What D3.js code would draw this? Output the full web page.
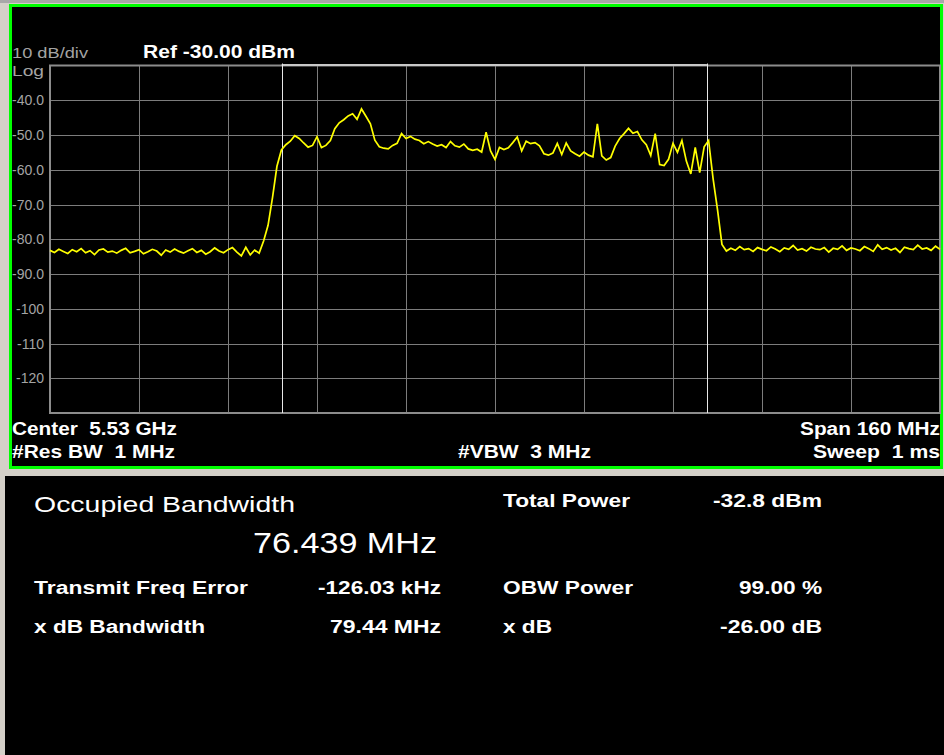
<!DOCTYPE html>
<html>
<head>
<meta charset="utf-8">
<script src="https://cdn.jsdelivr.net/npm/d3@7"></script>
<style>
  html, body { margin: 0; padding: 0; background: #d4d0c8; }
  svg { display: block; font-family: "Liberation Sans", Arial, sans-serif; }
</style>
</head>
<body>
<div id="chart"></div>
<script>
// sweep settings (MHz)
var centerFreq = 5530;
var spanFreq = 160;
var refLevel = -30;
var dbPerDiv = 10;

// measured trace, dBm, equally spaced over the span
var traceLevels = [
	-83.2,-83.8,-82.9,-83.5,-84.1,-83.0,-83.6,-82.7,-83.9,-83.3,-84.4,-83.1,-82.8,-83.7,-83.4,-84.0,
	-83.2,-82.6,-83.9,-83.5,-83.0,-84.2,-83.6,-82.9,-83.4,-84.6,-83.1,-83.7,-82.8,-83.5,-84.0,-83.3,
	-82.7,-83.8,-83.2,-84.3,-83.6,-82.5,-83.4,-83.9,-83.0,-82.4,-83.7,-84.8,-82.3,-84.5,-83.1,
	-84.0,-80.5,-76.0,-68.0,-59.0,-54.3,-52.8,-51.8,-50.2,-51.0,-52.3,-53.5,-53.0,-50.5,-53.6,-53.0,
	-51.6,-48.2,-46.5,-45.6,-44.5,-43.9,-45.5,-42.5,-44.6,-46.8,-51.5,-53.4,-53.8,-54.0,-53.0,-52.4,
	-49.6,-51.0,-50.4,-51.2,-51.6,-52.5,-51.9,-52.6,-53.2,-52.8,-53.6,-51.9,-53.1,-53.5,-52.6,-54.0,
	-54.4,-54.1,-54.9,-49.2,-54.6,-57.0,-53.6,-54.2,-53.7,-52.2,-50.6,-54.6,-51.8,-52.5,-52.2,-53.1,
	-55.4,-55.8,-55.2,-52.4,-55.6,-52.3,-54.6,-55.4,-56.1,-54.9,-55.8,-56.3,-46.8,-56.0,-57.2,-56.5,
	-53.2,-51.0,-49.6,-48.1,-49.5,-49.0,-51.4,-52.8,-55.9,-49.6,-58.5,-58.8,-57.0,-52.4,-55.0,-51.6,
	-57.5,-61.2,-53.6,-60.8,-53.4,-51.6,-62.5,-71.5,-81.5,-83.4,
	-82.6,-83.2,-82.1,-83.0,-82.7,-83.5,-82.4,-82.9,-83.3,-82.2,-82.8,-83.6,-82.5,-82.9,-81.8,-83.1,
	-82.7,-83.4,-82.3,-82.8,-83.0,-82.4,-83.7,-82.6,-82.9,-81.9,-83.2,-82.5,-82.8,-83.3,-82.1,-82.7,
	-83.5,-81.6,-82.9,-82.4,-83.1,-82.6,-83.8,-82.3,-82.7,-83.0,-81.7,-82.8,-82.5,-83.2,-82.0,-82.9
];

var yTickValues = [-40, -50, -60, -70, -80, -90, -100, -110, -120];
var yTickLabels = ["-40.0", "-50.0", "-60.0", "-70.0", "-80.0", "-90.0", "-100", "-110", "-120"];

// measurement results
var obwMHz = 76.439;
var freqErrorKHz = -126.03;
var resultLabels = ["Transmit Freq Error", "x dB Bandwidth"];
var resultValues = ["-126.03 kHz", "79.44 MHz"];
var resultLabels2 = ["Total Power", "OBW Power", "x dB"];
var resultValues2 = ["-32.8 dBm", "99.00 %", "-26.00 dB"];

var W = 944, H = 755;
var svg = d3.select("#chart").append("svg")
	.attr("width", W)
	.attr("height", H);

svg.append("rect").attr("width", W).attr("height", H).attr("fill", "#d4d0c8");
svg.append("rect").attr("x", 0).attr("y", 0).attr("width", W).attr("height", 3).attr("fill", "#a8a8a8");

// upper screen
svg.append("rect")
	.attr("x", 10.5).attr("y", 5.5)
	.attr("width", 931).attr("height", 462)
	.attr("fill", "#000")
	.attr("stroke", "#00ff00")
	.attr("stroke-width", 3);

// lower results panel
svg.append("rect").attr("x", 5).attr("y", 476).attr("width", W - 5).attr("height", H - 476).attr("fill", "#000");

var x = d3.scaleLinear()
	.domain([centerFreq - spanFreq / 2, centerFreq + spanFreq / 2])
	.range([50, 940]);
var y = d3.scaleLinear()
	.domain([refLevel - 10 * dbPerDiv, refLevel])
	.range([413, 65.5]);

var plot = svg.append("g");

// graticule
var xGrid = d3.range(1, 10).map(function(i) { return x.domain()[0] + i * spanFreq / 10; });
plot.selectAll("line.vgrid")
	.data(xGrid)
	.enter()
		.append("line")
		.attr("class", "vgrid")
		.attr("x1", function(d) { return Math.round(x(d)) + 0.5; })
		.attr("x2", function(d) { return Math.round(x(d)) + 0.5; })
		.attr("y1", y.range()[1]).attr("y2", y.range()[0])
		.style("stroke", "#7c7c7c").style("stroke-width", "1px");

plot.selectAll("line.hgrid")
	.data(yTickValues)
	.enter()
		.append("line")
		.attr("class", "hgrid")
		.attr("x1", x.range()[0]).attr("x2", x.range()[1])
		.attr("y1", function(d) { return Math.round(y(d)) + 0.5; })
		.attr("y2", function(d) { return Math.round(y(d)) + 0.5; })
		.style("stroke", "#7c7c7c").style("stroke-width", "1px");

plot.append("rect")
	.attr("x", x.range()[0]).attr("y", y.range()[1])
	.attr("width", x.range()[1] - x.range()[0])
	.attr("height", y.range()[0] - y.range()[1])
	.attr("fill", "none")
	.style("stroke", "#8c8c8c").style("stroke-width", "2px");

// y labels
plot.selectAll("text.ylab")
	.data(yTickValues)
	.enter()
		.append("text")
		.attr("class", "ylab")
		.attr("x", 44)
		.attr("y", function(d) { return y(d) + 5; })
		.attr("text-anchor", "end")
		.style("font-size", "14px")
		.style("fill", "#a4a4a4")
		.text(function(d, i) { return yTickLabels[i]; });

// OBW markers
var obwCenter = centerFreq + freqErrorKHz / 1000;
var obwEdges = [obwCenter - obwMHz / 2, obwCenter + obwMHz / 2];
plot.append("line")
	.attr("x1", x(obwEdges[0])).attr("x2", x(obwEdges[1]))
	.attr("y1", y.range()[1] - 0.5).attr("y2", y.range()[1] - 0.5)
	.style("stroke", "#c8c8c8").style("stroke-width", "2px");
plot.selectAll("line.obw")
	.data(obwEdges)
	.enter()
		.append("line")
		.attr("class", "obw")
		.attr("x1", function(d) { return Math.round(x(d)) + 0.5; })
		.attr("x2", function(d) { return Math.round(x(d)) + 0.5; })
		.attr("y1", y.range()[1] - 2).attr("y2", y.range()[0])
		.style("stroke", "#e8e8e8").style("stroke-width", "1px");

// trace
var step = spanFreq / (traceLevels.length - 1);
var line = d3.line()
	.x(function(d, i) { return x(x.domain()[0] + i * step); })
	.y(function(d) { return y(d); });
plot.append("path")
	.datum(traceLevels)
	.attr("d", line)
	.attr("fill", "none")
	.style("stroke", "#ffff00")
	.style("stroke-width", "1.7px")
	.style("stroke-linejoin", "miter");

// text helper: stretch text to the width it takes on screen
function label(txt, px, py, size, weight, color, width, anchor) {
	var t = svg.append("text")
		.attr("x", px).attr("y", py)
		.style("font-size", size + "px")
		.style("font-weight", weight)
		.style("fill", color)
		.style("white-space", "pre")
		.attr("text-anchor", anchor || "start")
		.text(txt);
	if (width) {
		t.attr("textLength", width).attr("lengthAdjust", "spacingAndGlyphs");
	}
	return t;
}

label("10 dB/div", 12, 58, 15, "normal", "#a4a4a4", 76);
label("Log", 12, 76, 15, "normal", "#a4a4a4", 32);
label("Ref -30.00 dBm", 143, 58, 18, "bold", "#ffffff", 152);

label("Center  5.53 GHz", 12, 435, 18, "bold", "#ffffff", 165);
label("#Res BW  1 MHz", 12, 458, 18, "bold", "#ffffff", 163);
label("#VBW  3 MHz", 458, 458, 18, "bold", "#ffffff", 133);
label("Span 160 MHz", 940, 435, 18, "bold", "#ffffff", 140, "end");
label("Sweep  1 ms", 940, 458, 18, "bold", "#ffffff", 127, "end");

label("Occupied Bandwidth", 34, 512, 22, "normal", "#ffffff", 261);
label(obwMHz.toFixed(3) + " MHz", 437, 553, 30, "normal", "#ffffff", 184, "end");

var rowY = [594, 633];
resultLabels.forEach(function(d, i) {
	label(d, 34, rowY[i], 18, "bold", "#ffffff", i == 0 ? 214 : 171);
	label(resultValues[i], 441, rowY[i], 18, "bold", "#ffffff", i == 0 ? 123 : 111, "end");
});
var rowY2 = [507, 594, 633];
var lw2 = [127, 130, 49], vw2 = [109, 83, 102];
resultLabels2.forEach(function(d, i) {
	label(d, 503, rowY2[i], 18, "bold", "#ffffff", lw2[i]);
	label(resultValues2[i], 822, rowY2[i], 18, "bold", "#ffffff", vw2[i], "end");
});
</script>
</body>
</html>
